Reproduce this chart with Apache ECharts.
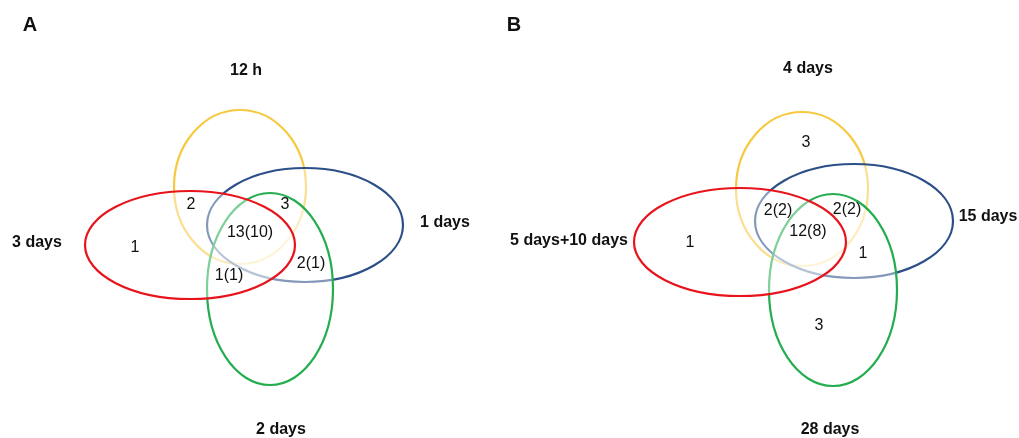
<!DOCTYPE html>
<html>
<head>
<meta charset="utf-8">
<script src="https://cdn.jsdelivr.net/npm/echarts@6/dist/echarts.min.js"></script>
<style>html,body{margin:0;padding:0;background:#fff;}#main{width:1019px;height:438px;}</style>
</head>
<body>
<div id="main"></div>
<script>
// Set names (panel A and panel B)
var setNamesA = ['12 h', '1 days', '2 days', '3 days'];
var setNamesB = ['4 days', '15 days', '28 days', '5 days+10 days'];
var setColors = ['#f7c940', '#2b4f86', '#24ad4f', '#e8141c'];
// Ellipses: [cx, cy, rx, ry] in chart units
var ellipsesA = [[240, 187, 66, 77], [305, 225, 98, 57], [270, 289, 63, 96], [190, 245, 105, 54]];
var ellipsesB = [[802, 189, 66, 77], [854, 221, 99, 57], [833, 290, 64, 96], [740, 242, 106, 54]];
// Set-name label anchors
var nameAnchorsA = [[246, 71], [445, 223], [281, 430], [37, 243]];
var nameAnchorsB = [[808, 69], [988, 217], [830, 430], [569, 241]];
// Region counts
var countsA = ['1', '2', '3', '13(10)', '1(1)', '2(1)'];
var countPosA = [[135, 248], [191, 205], [285, 205], [250, 233], [229, 276], [311, 264]];
var countsB = ['3', '2(2)', '2(2)', '12(8)', '1', '1', '3'];
var countPosB = [[806, 143], [778, 211], [847, 210], [808, 232], [690, 243], [863, 254], [819, 326]];
var panelLetters = ['A', 'B'];
var panelLetterPos = [[30, 25], [514, 25]];

var chart = echarts.init(document.getElementById('main'), null, {renderer: 'canvas'});

function ellipseData(list) {
  return list.map(function (e, i) { return {value: e, itemStyle: {color: setColors[i]}}; });
}
var ellData = ellipseData(ellipsesA).concat(ellipseData(ellipsesB));

function labelData(texts, pos) {
  return texts.map(function (t, i) { return {value: [pos[i][0], pos[i][1]], name: t}; });
}

function textSeries(data, size, weight) {
  return {
    type: 'custom', silent: true, z: 5,
    data: data,
    renderItem: function (params, api) {
      var c = api.coord([api.value(0), api.value(1)]);
      return {
        type: 'text',
        x: c[0], y: c[1],
        style: {text: data[params.dataIndex].name, fill: '#111', fontSize: size, fontWeight: weight,
          fontFamily: 'Liberation Sans, Arial, sans-serif', align: 'center', verticalAlign: 'middle'}
      };
    }
  };
}

var option = {
  backgroundColor: '#ffffff',
  animation: false,
  grid: {left: 0, right: 0, top: 0, bottom: 0},
  xAxis: {type: 'value', min: 0, max: 1019, show: false},
  yAxis: {type: 'value', min: 0, max: 438, inverse: true, show: false},
  series: [
    {
      type: 'custom',
      data: ellData,
      renderItem: function (params, api) {
        var c = api.coord([api.value(0), api.value(1)]);
        var s = api.size([api.value(2), api.value(3)]);
        return {
          type: 'ellipse',
          shape: {cx: c[0], cy: c[1], rx: s[0], ry: s[1]},
          style: {fill: 'rgba(255,255,255,0.42)', stroke: api.visual('color'), lineWidth: 2.2}
        };
      }
    },
    textSeries(labelData(countsA, countPosA).concat(labelData(countsB, countPosB)), 16, 'normal'),
    textSeries(labelData(setNamesA, nameAnchorsA).concat(labelData(setNamesB, nameAnchorsB)), 16, 'bold'),
    textSeries(labelData(panelLetters, panelLetterPos), 20, 'bold')
  ]
};
chart.setOption(option);
</script>
</body>
</html>
